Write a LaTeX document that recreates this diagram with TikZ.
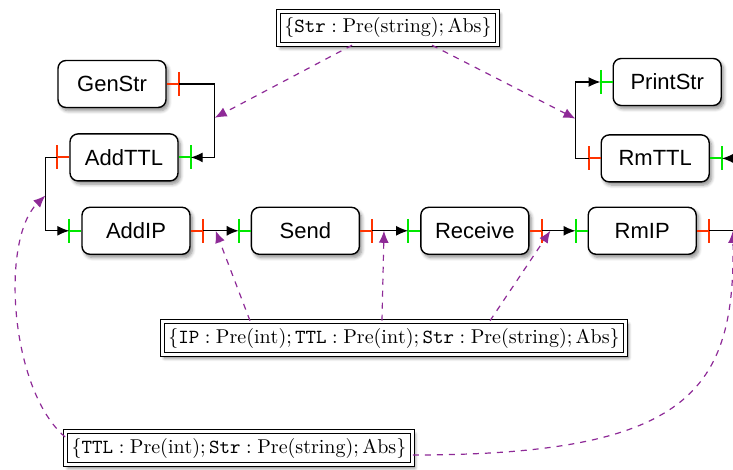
\documentclass[tikz,border=0pt]{standalone}
\usepackage{fontspec}
\newfontfamily\compfont{Liberation Sans}
\usepackage{xcolor}
\usetikzlibrary{positioning,shapes,arrows,arrows.meta,shadows,shadows.blur,calc}

\definecolor{outred}{RGB}{255,51,0}
\definecolor{ingreen}{RGB}{0,232,0}
\definecolor{typepurple}{RGB}{142,42,151}

\tikzset{
  component/.style={draw, rounded corners=4pt, fill=white, line width=0.7pt,
    minimum width=54pt, minimum height=23.5pt, font=\compfont\fontsize{11}{13}\selectfont,
    blur shadow={shadow xshift=1.2pt, shadow yshift=-1.6pt, shadow blur steps=6, shadow opacity=45}},
  rowtype/.style={draw, double, double distance=1.3pt, line width=0.6pt, fill=white,
    inner xsep=3pt, minimum height=15.5pt,
    blur shadow={shadow xshift=1.2pt, shadow yshift=-1.6pt, shadow blur steps=6, shadow opacity=55}},
  outport/.style={draw=outred, line width=1pt},
  inport/.style={draw=ingreen, line width=1pt},
  flow/.style={draw, line width=0.65pt, ->},
  typeref/.style={draw=typepurple, dashed, line width=0.6pt, ->},
}

% port: style, anchor, length, name of its end
\newcommand{\port}[4]{\draw[#1] (#2) -- ++(#3,0) coordinate (#4) ++(0,-12) -- ++(0,24);}

\begin{document}
\begin{tikzpicture}[x=0.5pt, y=-0.5pt, >={Latex[length=6pt,width=5pt]}]
  \useasboundingbox (0,0) rectangle (733,470);

  % components
  \node[component] (GenStr) at (112,84) {GenStr};
  \node[component, below=12.5pt of GenStr, xshift=6pt] (AddTTL) {AddTTL};
  \node[component, below=12.5pt of AddTTL, xshift=6pt] (AddIP) {AddIP};
  \node[component, right=30pt of AddIP] (Send) {Send};
  \node[component, right=30pt of Send] (Receive) {Receive};
  \node[component, right=29pt of Receive] (RmIP) {RmIP};
  \node[component, above=12pt of RmIP, xshift=6.5pt] (RmTTL) {RmTTL};
  \node[component, above=14pt of RmTTL, xshift=6pt] (PrintStr) {PrintStr};

  % row types
  \node[rowtype] (topType) at (388,28) {$\{\mathtt{Str}:\mathrm{Pre}(\mathrm{string});\mathrm{Abs}\}$};
  \node[rowtype] (midType) at (394,338) {$\{\mathtt{IP}:\mathrm{Pre}(\mathrm{int});\mathtt{TTL}:\mathrm{Pre}(\mathrm{int});\mathtt{Str}:\mathrm{Pre}(\mathrm{string});\mathrm{Abs}\}$};
  \node[rowtype] (botType) at (239,448) {$\{\mathtt{TTL}:\mathrm{Pre}(\mathrm{int});\mathtt{Str}:\mathrm{Pre}(\mathrm{string});\mathrm{Abs}\}$};

  % ports
  \port{outport}{GenStr.east}{12}{gs-o}
  \port{inport}{AddTTL.east}{12}{at-i}
  \port{outport}{AddTTL.west}{-12}{at-o}
  \port{inport}{AddIP.west}{-12}{ai-i}
  \port{outport}{AddIP.east}{12}{ai-o}
  \port{inport}{Send.west}{-12}{se-i}
  \port{outport}{Send.east}{12}{se-o}
  \port{inport}{Receive.west}{-12}{re-i}
  \port{outport}{Receive.east}{12}{re-o}
  \port{inport}{RmIP.west}{-12}{ri-i}
  \port{outport}{RmIP.east}{12}{ri-o}
  \port{inport}{RmTTL.east}{12}{rt-i}
  \port{outport}{RmTTL.west}{-12}{rt-o}
  \port{inport}{PrintStr.west}{-12}{ps-i}

  \path (ri-o) ++(30,0) coordinate (ri-end);
  \path (rt-i) ++(20,0) coordinate (rt-from);

  % wires
  \draw[flow] (gs-o) -- ++(36,0) |- coordinate[pos=0.23] (strA) (at-i);
  \draw[flow] (at-o) -- ++(-12,0) |- coordinate[pos=0.26] (ttlA) (ai-i);
  \draw[flow] (ai-o) -- coordinate[pos=0.36] (ipA) (se-i);
  \draw[flow] (se-o) -- coordinate[pos=0.33] (ipB) (re-i);
  \draw[flow] (re-o) -- coordinate[pos=0.26] (ipC) (ri-i);
  \draw[line width=0.65pt] (ri-o) -- coordinate[pos=0.8] (ttlB) (ri-end);
  \draw[flow] (rt-from) -- (rt-i);
  \draw[flow] (rt-o) -- ++(-13,0) |- coordinate[pos=0.26] (strB) (ps-i);

  % types of the wires
  \draw[typeref] ($(topType.south)+(-36,0)$) -- (strA);
  \draw[typeref] ($(topType.south)+(44,0)$) -- (strB);
  \draw[typeref] ($(midType.north)+(-144,0)$) -- (ipA);
  \draw[typeref] ($(midType.north)+(-12,0)$) -- (ipB);
  \draw[typeref] ($(midType.north)+(96,0)$) -- (ipC);
  \draw[typeref] ($(botType.west)+(0,-11)$) .. controls (10,390) and (0,240) .. (ttlA);
  \draw[typeref] ($(botType.east)+(0,7)$) .. controls (690,455) and (735,390) .. (ttlB);
\end{tikzpicture}
\end{document}
